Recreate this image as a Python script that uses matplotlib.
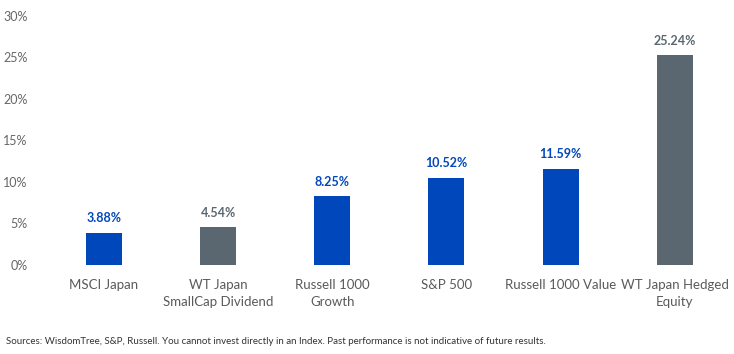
import matplotlib.pyplot as plt
from matplotlib.ticker import FuncFormatter

plt.rcParams['font.family'] = ['Lato', 'DejaVu Sans']

categories = ['MSCI Japan', 'WT Japan\nSmallCap Dividend', 'Russell 1000\nGrowth',
              'S&P 500', 'Russell 1000 Value', 'WT Japan Hedged\nEquity']
values = [3.88, 4.54, 8.25, 10.52, 11.59, 25.24]
is_wt = [False, True, False, False, False, True]

blue = '#0047BB'
grey = '#5B6770'
colors = [grey if w else blue for w in is_wt]

fig = plt.figure(figsize=(7.34, 3.54), dpi=100)
ax = fig.add_axes([0.064, 0.252, 0.933, 0.703])

x = range(len(categories))
bars = ax.bar(x, values, width=0.315, color=colors)
for b, v, c in zip(bars, values, colors):
    ax.annotate('%.2f%%' % v, (b.get_x() + b.get_width() / 2, v),
                xytext=(0, 6), textcoords='offset points',
                ha='center', va='bottom', fontsize=9, fontweight='bold', color=c)

ax.set_xlim(-0.5, len(categories) - 0.5)
ax.set_ylim(0, 30)
ax.set_yticks(range(0, 31, 5))
ax.yaxis.set_major_formatter(FuncFormatter(lambda v, p: '%d%%' % v))
ax.set_xticks(list(x))
ax.set_xticklabels(categories, fontsize=9.5, color='#5a5a5a', linespacing=1.5)
ax.tick_params(axis='y', labelsize=9, colors='#666666', length=0, pad=14)
ax.tick_params(axis='x', length=0, pad=10)
for s in ax.spines.values():
    s.set_visible(False)

fig.text(0.008, 0.036, 'Sources: WisdomTree, S&P, Russell. You cannot invest directly in an Index. '
         'Past performance is not indicative of future results.',
         fontsize=7, color='#333333', va='center')

fig.savefig('out.png', dpi=100)
